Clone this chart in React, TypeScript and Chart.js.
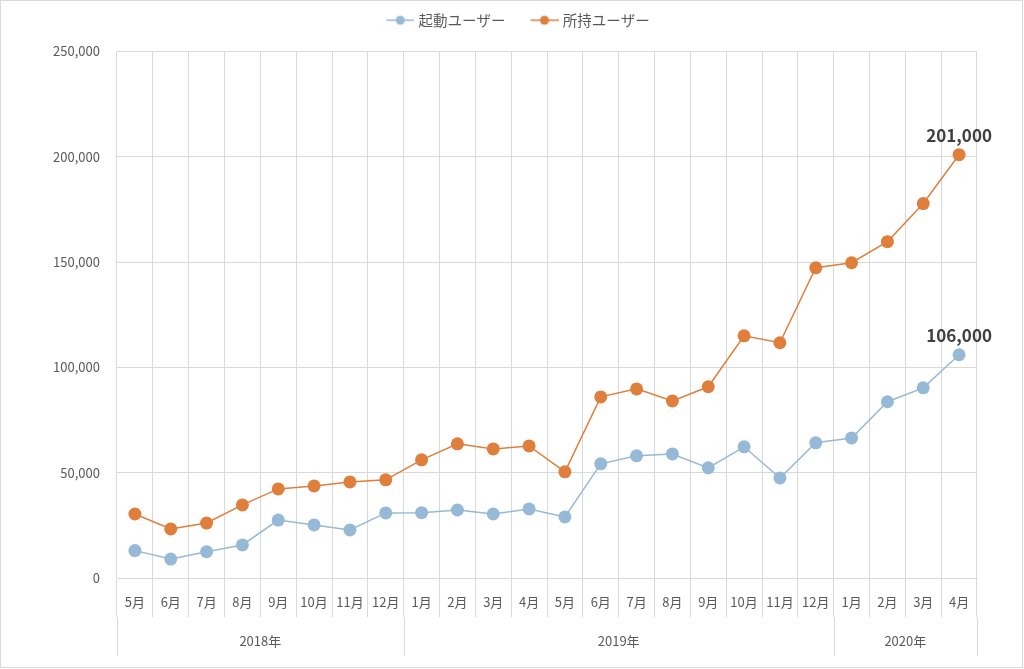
import React, { useEffect, useRef } from 'react';
import { Chart, registerables } from 'chart.js';

Chart.register(...registerables);

const monthLabels = [
  '5月', '6月', '7月', '8月', '9月', '10月', '11月', '12月',
  '1月', '2月', '3月', '4月', '5月', '6月', '7月', '8月', '9月', '10月', '11月', '12月',
  '1月', '2月', '3月', '4月',
];
const yearLabels = ['2018年', '2019年', '2020年'];
const yearSpans = [8, 12, 4];

const activeUsers = [
  13000, 9000, 12500, 15700, 27500, 25200, 22800, 30900,
  31000, 32300, 30400, 32800, 29000, 54200, 58000, 58900, 52300, 62300, 47500, 64200,
  66500, 83700, 90300, 106000,
];
const ownedUsers = [
  30400, 23300, 26100, 34700, 42300, 43700, 45600, 46600,
  56100, 63700, 61300, 62700, 50400, 86000, 89800, 84100, 90800, 115000, 111700, 147300,
  149700, 159700, 177800, 201000,
];
const seriesNames = ['起動ユーザー', '所持ユーザー'];
const yMin = 0;
const yMax = 250000;
const yStep = 50000;

const BLUE = '#96B9D7';
const ORANGE = '#E07E3C';
const GRID = '#D9D9D9';
const TEXT = '#595959';
const LABEL = '#404040';
const FONT = "'Noto Sans CJK JP', 'Noto Sans', sans-serif";

function makeMarker(color: string) {
  const c = document.createElement('canvas');
  c.width = 44;
  c.height = 14;
  const ctx = c.getContext('2d')!;
  ctx.strokeStyle = color;
  ctx.lineWidth = 1.5;
  ctx.beginPath();
  ctx.moveTo(16, 7);
  ctx.lineTo(44, 7);
  ctx.stroke();
  ctx.fillStyle = color;
  ctx.beginPath();
  ctx.arc(30, 7, 4.5, 0, Math.PI * 2);
  ctx.fill();
  return c;
}

const axisGroupsPlugin = {
  id: 'axisGroups',
  afterDraw(chart: any) {
    const x = chart.scales.x;
    const ctx = chart.ctx;
    ctx.save();
    ctx.strokeStyle = GRID;
    ctx.lineWidth = 1;
    const bounds = [0];
    let acc = 0;
    yearSpans.forEach((s) => {
      acc += s;
      bounds.push(acc);
    });
    bounds.forEach((b) => {
      const px = Math.round(x.getPixelForValue(b - 0.5)) + 0.5;
      ctx.beginPath();
      ctx.moveTo(px, x.top + 39);
      ctx.lineTo(px, x.top + 78);
      ctx.stroke();
    });
    ctx.fillStyle = TEXT;
    ctx.font = `13px ${FONT}`;
    ctx.textAlign = 'center';
    ctx.textBaseline = 'middle';
    acc = 0;
    yearLabels.forEach((lab, i) => {
      const mid = acc + yearSpans[i] / 2 - 0.5;
      ctx.fillText(lab, x.getPixelForValue(mid), x.top + 63);
      acc += yearSpans[i];
    });
    ctx.restore();
  },
};

const lastLabelPlugin = {
  id: 'lastLabel',
  afterDatasetsDraw(chart: any) {
    const ctx = chart.ctx;
    ctx.save();
    ctx.fillStyle = LABEL;
    ctx.font = `bold 17px ${FONT}`;
    ctx.textAlign = 'center';
    ctx.textBaseline = 'middle';
    chart.data.datasets.forEach((ds: any, i: number) => {
      const meta = chart.getDatasetMeta(i);
      const el = meta.data[meta.data.length - 1];
      const v = ds.data[ds.data.length - 1];
      ctx.fillText(Number(v).toLocaleString('en-US'), el.x, el.y - 19);
    });
    ctx.restore();
  },
};

export default function App() {
  const ref = useRef<HTMLCanvasElement | null>(null);

  useEffect(() => {
    if (!ref.current) return;
    const markers = [makeMarker(BLUE), makeMarker(ORANGE)];
    const colors = [BLUE, ORANGE];
    const chart = new Chart(ref.current, {
      type: 'line',
      data: {
        labels: monthLabels,
        datasets: [activeUsers, ownedUsers].map((d, i) => ({
          label: seriesNames[i],
          data: d,
          borderColor: colors[i],
          backgroundColor: colors[i],
          borderWidth: 1.5,
          pointRadius: 6.5,
          pointBorderWidth: 0,
          pointBackgroundColor: colors[i],
          tension: 0,
          xAxisID: 'x',
          yAxisID: 'y',
        })),
      },
      options: {
        animation: false,
        responsive: true,
        maintainAspectRatio: false,
        devicePixelRatio: 1,
        font: { family: FONT },
        layout: { padding: 0 },
        plugins: {
          tooltip: { enabled: false },
          legend: {
            position: 'top',
            labels: {
              usePointStyle: true,
              pointStyleWidth: 38,
              boxHeight: 14,
              padding: 12,
              color: TEXT,
              font: { size: 14.5, family: FONT },
              generateLabels: (chart: any) => {
                const items = (Chart.defaults.plugins.legend.labels as any).generateLabels(chart);
                return items.map((it: any, i: number) => ({ ...it, pointStyle: markers[i], lineWidth: 0 }));
              },
            },
          },
        },
        scales: {
          x: {
            type: 'category',
            position: 'bottom',
            offset: true,
            grid: { offset: true, color: GRID, tickLength: 39, drawTicks: true, tickColor: GRID },
            border: { color: GRID },
            ticks: { color: TEXT, font: { size: 13, family: FONT }, padding: -23, maxRotation: 0, autoSkip: false },
            afterFit: (s: any) => {
              s.height = 89;
            },
          },
          xTop: {
            type: 'category',
            position: 'top',
            grid: { display: false, drawTicks: false },
            border: { display: false },
            ticks: { display: false },
            afterFit: (s: any) => {
              s.height = 14;
            },
          },
          y: {
            position: 'left',
            min: yMin,
            max: yMax,
            ticks: {
              stepSize: yStep,
              color: TEXT,
              font: { size: 13, family: FONT },
              padding: 17,
              callback: (v: any) => Number(v).toLocaleString('en-US'),
            },
            grid: { color: GRID, drawTicks: false },
            border: { display: false },
            afterFit: (s: any) => {
              s.width = 116;
            },
          },
          yRight: {
            position: 'right',
            min: yMin,
            max: yMax,
            grid: { display: false, drawTicks: false },
            border: { display: false },
            ticks: { display: false },
            afterFit: (s: any) => {
              s.width = 45;
            },
          },
        },
      } as any,
      plugins: [axisGroupsPlugin, lastLabelPlugin],
    });
    return () => chart.destroy();
  }, []);

  return (
    <div
      style={{
        position: 'fixed',
        left: 0,
        top: 0,
        width: 1023,
        height: 668,
        boxSizing: 'border-box',
        border: '1px solid #d9d9d9',
        background: '#fff',
      }}
    >
      <div style={{ position: 'relative', width: '100%', height: '100%' }}>
        <canvas ref={ref} />
      </div>
    </div>
  );
}
